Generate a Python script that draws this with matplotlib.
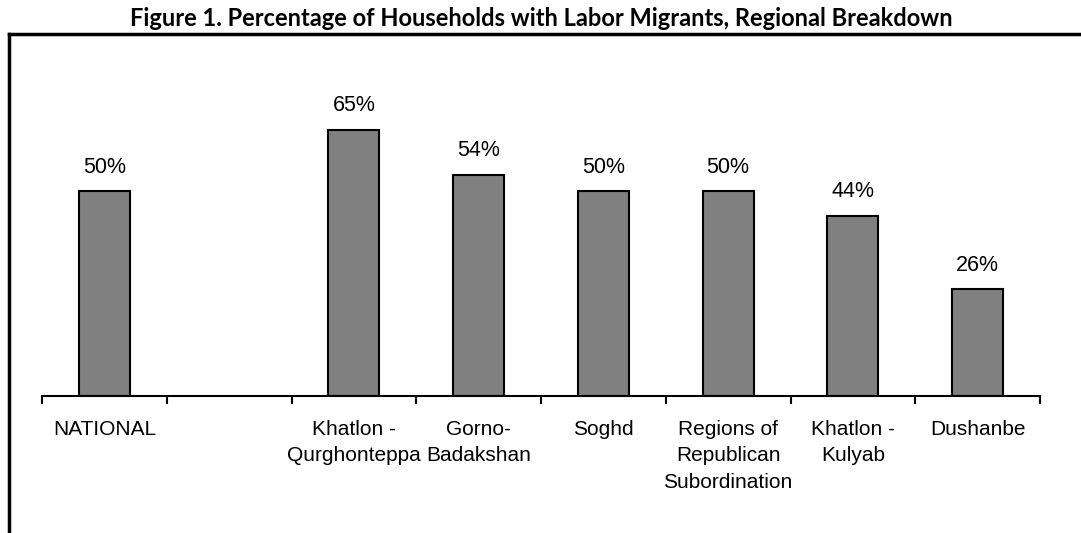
#!/usr/bin/env python3
import matplotlib
matplotlib.use('Agg')
import matplotlib.pyplot as plt
from matplotlib.lines import Line2D

categories = ['NATIONAL', '', 'Khatlon -\nQurghonteppa', 'Gorno-\nBadakshan', 'Soghd',
              'Regions of\nRepublican\nSubordination', 'Khatlon -\nKulyab', 'Dushanbe']
values = [50, None, 65, 54, 50, 50, 44, 26]
value_labels = ['50%', '', '65%', '54%', '50%', '50%', '44%', '26%']

fig = plt.figure(figsize=(10.81, 5.33), dpi=100)
ax = fig.add_axes([42 / 1081, 137 / 533, 998 / 1081, 287 / 533])

xs = [i for i, v in enumerate(values) if v is not None]
hs = [v for v in values if v is not None]
bars = ax.bar(xs, hs, width=0.41, color='#808080', edgecolor='black', linewidth=1.5)

for x, h in zip(xs, hs):
    ax.annotate(value_labels[x], (x, h), xytext=(0, 9.5), textcoords='offset points',
                ha='center', va='bottom', fontsize=15.5, family='Liberation Sans')

ax.set_xlim(-0.5, len(categories) - 0.5)
ax.set_ylim(0, 70)
ax.set_xticks(range(len(categories)))
ax.set_xticklabels(categories, fontsize=15, family='Liberation Sans', linespacing=1.5)
ax.set_xticks([i - 0.5 for i in range(len(categories) + 1)], minor=True)
ax.tick_params(axis='x', which='major', length=0, pad=17)
ax.tick_params(axis='x', which='minor', length=6, width=1.5, direction='out')
ax.set_yticks([])
for side in ['top', 'right', 'left']:
    ax.spines[side].set_visible(False)
ax.spines['bottom'].set_linewidth(1.5)

# outer frame (only left and top edges are visible)
fig.add_artist(Line2D([9 / 1081, 9 / 1081], [0, (533 - 34) / 533], color='black', linewidth=2.5))
fig.add_artist(Line2D([9 / 1081, 1], [(533 - 34) / 533, (533 - 34) / 533], color='black', linewidth=2.5))

fig.text(541 / 1081, (533 - 18) / 533, 'Figure 1. Percentage of Households with Labor Migrants, Regional Breakdown',
         ha='center', va='center', fontsize=17, fontweight='bold', family='Lato')

fig.savefig('out.png', dpi=100)
